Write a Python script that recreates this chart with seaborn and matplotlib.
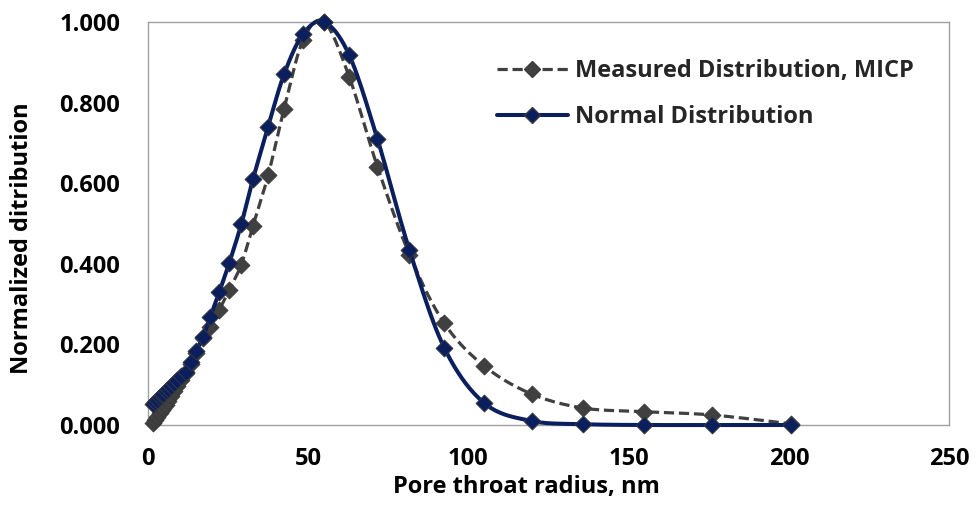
import numpy as np
import pandas as pd
import matplotlib
matplotlib.use("Agg")
import matplotlib.pyplot as plt
from matplotlib.lines import Line2D
from matplotlib.ticker import FormatStrFormatter
import seaborn as sns

# ---------------- data ----------------
radius_nm = [1.6, 2.2, 2.9, 3.7, 4.3, 4.8, 5.5, 6.2, 7.1, 8.0, 9.1, 10.4, 11.8,
             13.4, 15.0, 17.2, 19.4, 22.2, 25.3, 29.1, 32.8, 37.5, 42.5, 48.4,
             55.0, 62.8, 71.6, 81.6, 92.5, 105.0, 119.7, 135.9, 154.7, 175.9, 200.6]
measured_micp = [0.004, 0.012, 0.020, 0.030, 0.036, 0.043, 0.050, 0.060, 0.072, 0.084,
                 0.097, 0.112, 0.128, 0.152, 0.178, 0.215, 0.243, 0.285, 0.334, 0.398,
                 0.495, 0.620, 0.785, 0.955, 1.000, 0.864, 0.641, 0.423, 0.252, 0.146,
                 0.077, 0.042, 0.033, 0.025, 0.003]
normal_dist = [0.052, 0.056, 0.062, 0.070, 0.074, 0.078, 0.084, 0.089, 0.096, 0.103,
               0.112, 0.122, 0.132, 0.156, 0.184, 0.218, 0.267, 0.329, 0.401, 0.498,
               0.611, 0.740, 0.871, 0.970, 1.000, 0.918, 0.710, 0.434, 0.191, 0.054,
               0.010, 0.002, 0.000, 0.000, 0.000]
series_labels = ["Measured Distribution, MICP", "Normal Distribution"]
x_label = "Pore throat radius, nm"
y_label = "Normalized ditribution"
x_ticks = [0, 50, 100, 150, 200, 250]
y_ticks = [0.0, 0.2, 0.4, 0.6, 0.8, 1.0]


def smooth(xs, ys, n=20, yscale=126.0):
    """Catmull-Rom smoothing (like Excel's smoothed line) through the data points."""
    pts = np.column_stack([np.asarray(xs, float), np.asarray(ys, float) * yscale])
    P = np.vstack([pts[0], pts, pts[-1]])
    out = []
    for i in range(1, len(P) - 2):
        p0, p1, p2, p3 = P[i - 1], P[i], P[i + 1], P[i + 2]
        t = np.linspace(0, 1, n, endpoint=False)[:, None]
        seg = 0.5 * ((2 * p1) + (-p0 + p2) * t + (2 * p0 - 5 * p1 + 4 * p2 - p3) * t ** 2
                     + (-p0 + 3 * p1 - 3 * p2 + p3) * t ** 3)
        out.append(seg)
    out.append(pts[-1][None, :])
    arr = np.vstack(out)
    return arr[:, 0], arr[:, 1] / yscale


sns.set_theme(style="white")
plt.rcParams["font.family"] = ["Open Sans", "DejaVu Sans"]
plt.rcParams["font.weight"] = "bold"

FS = 17

fig = plt.figure(figsize=(9.8, 5.07), dpi=100)
ax = fig.add_axes([148 / 980, 1 - 425 / 507, (949 - 148) / 980, (425 - 22) / 507])

gray = "#404040"
navy = "#0b1f5e"
dash = (0, (3.2, 1.5))

df = pd.DataFrame({"r": radius_nm, "m": measured_micp, "n": normal_dist})

# measured series
sx, sy = smooth(df["r"], df["m"])
sns.lineplot(x=sx, y=sy, ax=ax, color=gray, lw=2.3, linestyle=dash,
             sort=False, estimator=None, zorder=2)
sns.scatterplot(x=df["r"], y=df["m"], ax=ax, marker="D", s=75, color=gray,
                edgecolor="#3a3a3a", linewidth=0.6, zorder=3)

# normal series
nx, ny = smooth(df["r"], df["n"])
sns.lineplot(x=nx, y=ny, ax=ax, color=navy, lw=2.9, sort=False, estimator=None, zorder=4)
sns.scatterplot(x=df["r"], y=df["n"], ax=ax, marker="D", s=75, color=navy,
                edgecolor="#3a3a3a", linewidth=0.6, zorder=5)

ax.set_xlim(0, 250)
ax.set_ylim(0, 1.0)
ax.set_xticks(x_ticks)
ax.set_yticks(y_ticks)
ax.yaxis.set_major_formatter(FormatStrFormatter("%.3f"))
for c in ax.collections + ax.lines:
    c.set_clip_on(False)

for sp in ax.spines.values():
    sp.set_color("#a0a0a0")
    sp.set_linewidth(1.0)
ax.tick_params(axis="both", which="major", direction="out", length=6, width=1,
               color="#a0a0a0", labelsize=FS, labelcolor="black")
ax.tick_params(axis="x", pad=10)
ax.tick_params(axis="y", pad=14)
for lab in ax.get_xticklabels() + ax.get_yticklabels():
    lab.set_fontweight("bold")

ax.set_xlabel(x_label, fontsize=FS, fontweight="bold", color="black")
ax.set_ylabel(y_label, fontsize=FS, fontweight="bold", color="black")
ax.xaxis.set_label_coords((526 - 148) / 801, (425 - 475) / 403)
ax.yaxis.set_label_coords((34 - 148) / 801, (425 - 238) / 403)

handles = [
    Line2D([], [], color=gray, lw=2.3, linestyle=dash, marker="D", markersize=8,
           markerfacecolor=gray, markeredgecolor="#3a3a3a"),
    Line2D([], [], color=navy, lw=2.9, marker="D", markersize=8,
           markerfacecolor=navy, markeredgecolor="#3a3a3a"),
]
leg = ax.legend(handles, series_labels, loc="upper left",
                bbox_to_anchor=(497 / 980, 1 - 59 / 507), bbox_transform=fig.transFigure,
                frameon=False, handlelength=3.0, handletextpad=0.3, labelspacing=0.95,
                borderpad=0, borderaxespad=0, prop={"size": FS, "weight": "bold"})

fig.savefig("out.png", dpi=100, facecolor="white")
